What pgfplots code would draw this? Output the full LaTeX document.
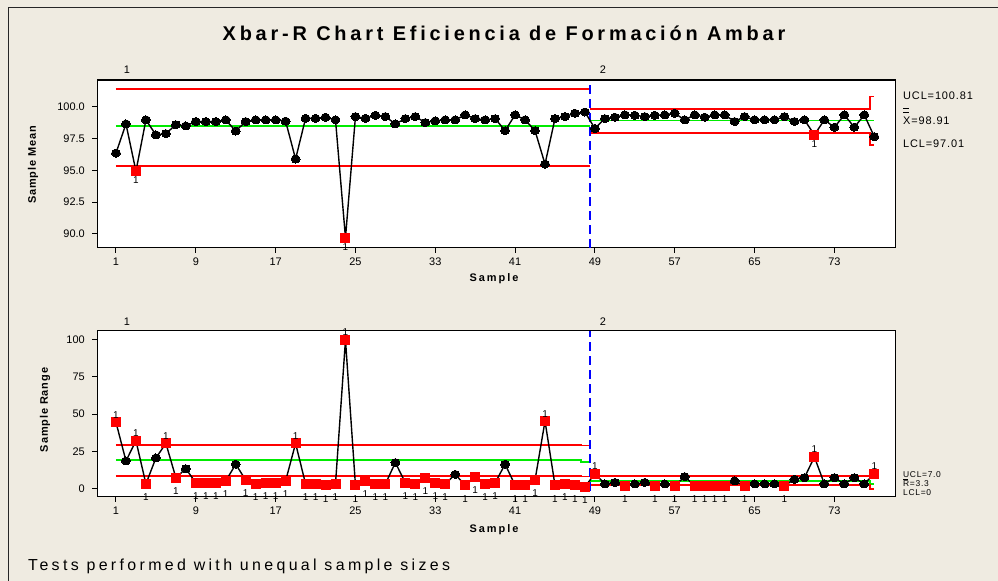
\documentclass[border=0pt]{standalone}
\usepackage{pgfplots}
\pgfplotsset{compat=1.18}
\usepackage{fontspec}
\setmainfont{Liberation Sans}
\newfontfamily\titlefont[LetterSpace=19]{Liberation Sans}
\newfontfamily\xlblfont[LetterSpace=18]{Liberation Sans}
\newfontfamily\ylblfont[LetterSpace=8]{Liberation Sans}
\newfontfamily\notefont[LetterSpace=21]{Liberation Sans}
\newfontfamily\rlblfont[LetterSpace=8]{Liberation Sans}
\definecolor{bgc}{RGB}{239,235,225}
\definecolor{lr}{RGB}{255,0,0}
\definecolor{lg}{RGB}{0,235,0}
\definecolor{lb}{RGB}{0,0,255}

\pgfplotstableread{
s m
1 96.37
2 98.66
3 94.94
4 98.98
5 97.80
6 97.90
7 98.60
8 98.50
9 98.85
10 98.85
11 98.85
12 98.98
13 98.10
14 98.85
15 98.98
16 98.98
17 98.98
18 98.88
19 95.90
20 99.10
21 99.10
22 99.19
23 98.98
24 89.70
25 99.24
26 99.10
27 99.34
28 99.24
29 98.66
30 99.08
31 99.24
32 98.77
33 98.90
34 98.98
35 98.98
36 99.37
37 99.08
38 98.98
39 99.08
40 98.13
41 99.37
42 98.98
43 98.13
44 95.50
45 99.08
46 99.24
47 99.50
48 99.60
49 98.30
50 99.08
51 99.19
52 99.37
53 99.34
54 99.24
55 99.34
56 99.37
57 99.50
58 98.98
59 99.37
60 99.19
61 99.37
62 99.37
63 98.85
64 99.24
65 98.98
66 98.98
67 98.98
68 99.24
69 98.85
70 98.98
71 97.80
72 98.98
73 98.40
74 99.37
75 98.40
76 99.37
77 97.66
}\meantab

\pgfplotstableread{
s r
1 44.5
2 18.6
3 32.2
4 3.2
5 20.6
6 30.4
7 7.4
8 13.4
9 4.0
10 4.0
11 4.0
12 5.2
13 16.4
14 5.8
15 3.2
16 4.0
17 4.0
18 5.2
19 30.4
20 3.2
21 3.2
22 2.3
23 3.2
24 99.8
25 2.3
26 5.2
27 3.2
28 3.2
29 17.5
30 4.0
31 3.2
32 7.4
33 4.0
34 3.2
35 9.6
36 2.3
37 7.8
38 3.2
39 4.0
40 16.4
41 2.3
42 2.3
43 5.8
44 45.4
45 2.3
46 3.2
47 2.3
48 1.3
49 10.1
50 3.2
51 4.2
52 1.9
53 3.2
54 4.2
55 1.9
56 3.2
57 1.9
58 8.1
59 1.9
60 1.9
61 1.9
62 1.9
63 5.2
64 1.9
65 3.2
66 3.2
67 3.2
68 1.9
69 6.3
70 7.4
71 21.3
72 3.2
73 7.4
74 3.2
75 7.4
76 3.2
77 10.1
}\rangetab

\pgfplotsset{
  spc/.style={
    scale only axis, width=798.4bp,
    xmin=-0.874, xmax=79.15,
    axis background/.style={fill=white},
    axis line style={black, line width=1.3bp},
    every tick/.style={black, line width=1bp},
    major tick length=5bp,
    tick align=outside,
    xtick pos=bottom, ytick pos=left,
    xtick={1,9,...,73},
    tick label style={font=\fontsize{11}{13}\selectfont},
    /pgf/number format/assume math mode=true,
    xticklabel style={yshift=-2bp},
    yticklabel style={xshift=-4bp},
    clip=false,
  },
  lim/.style={draw=lr, line width=1.7bp, forget plot, mark=none},
  cl/.style={draw=lg, line width=1.6bp, forget plot, mark=none},
  dat/.style={black, line width=1.4bp, mark=*, mark size=4bp, mark options={xscale=1.12, fill=black, draw=black, line width=0pt}},
  redpt/.style={only marks, mark=square*, mark size=4.5bp, mark options={fill=lr, draw=lr, line width=0pt}, nodes near coords={1}},
  below1/.style={nodes near coords style={black, inner sep=0pt, font=\fontsize{10}{12}\selectfont, anchor=north, yshift=-5.5bp}},
  above1/.style={nodes near coords style={black, inner sep=0pt, font=\fontsize{10}{12}\selectfont, anchor=south, yshift=4bp}},
  stg/.style={draw=lb, line width=1.8bp, dash pattern=on 9bp off 5bp, forget plot, mark=none},
}

\begin{document}
\begin{tikzpicture}[x=1bp,y=1bp]
\fill[bgc] (0,0) rectangle (998,581);
\useasboundingbox (0,0) rectangle (998,581);
\draw[black!85, line width=1.5bp] (8.5,0) -- (8.5,573.5) -- (998,573.5);

% ---------------- Xbar chart ----------------
\begin{axis}[spc, at={(97.3bp,333.3bp)}, anchor=south west,
  height=167.7bp, ymin=88.92, ymax=102.12,
  ytick={90,92.5,95,97.5,100},
  yticklabel style={/pgf/number format/.cd, fixed, fixed zerofill, precision=1}]
\addplot[cl] coordinates {(1,98.48) (48.5,98.48)};
\addplot[cl] coordinates {(48.5,98.93) (77,98.93)};
\addplot[lim] coordinates {(1,101.41) (48.5,101.41)};
\addplot[lim] coordinates {(1,95.33) (48.5,95.33)};
\addplot[lim] coordinates {(48.5,99.85) (76.6,99.85) (76.6,100.81) (77,100.81)};
\addplot[lim] coordinates {(48.5,97.97) (76.6,97.97) (76.6,97.01) (77,97.01)};
\addplot[stg] coordinates {(48.5,88.92) (48.5,102.12)};
\addplot[dat] table[x=s,y=m] {\meantab};
\addplot[redpt, below1] coordinates {(3,94.94) (24,89.70) (71,97.80)};
\end{axis}

% ---------------- R chart ----------------
\begin{axis}[spc, at={(97.3bp,84.3bp)}, anchor=south west,
  height=166bp, ymin=-5.37, ymax=106,
  ytick={0,25,50,75,100}]
\addplot[cl] coordinates {(1,19.3) (47.6,19.3) (47.6,18.1) (48.5,18.1)};
\addplot[cl] coordinates {(48.5,5.0) (76.6,5.0) (76.6,3.3) (77,3.3)};
\addplot[lim] coordinates {(1,29.3) (47.6,29.3) (47.6,28.9) (48.5,28.9)};
\addplot[lim] coordinates {(1,8.5) (47.6,8.5) (47.6,8.2) (48.5,8.2)};
\addplot[lim] coordinates {(48.5,8.3) (76.6,8.3) (76.6,7.0) (77,7.0)};
\addplot[lim] coordinates {(48.5,2.4) (76.6,2.4) (76.6,0) (77,0)};
\addplot[stg] coordinates {(48.5,-1.5) (48.5,106)};
\addplot[dat] table[x=s,y=r] {\rangetab};
\addplot[redpt, above1] coordinates {(1,44.5) (3,32.2) (6,30.4) (19,30.4) (24,99.8) (44,45.4) (49,10.1) (71,21.3) (77,10.1)};
\addplot[redpt, below1, nodes near coords style={yshift=-4.5bp}] coordinates {(4,3.2) (7,7.4) (9,4.0) (10,4.0) (11,4.0) (12,5.2) (14,5.8) (15,3.2) (16,4.0) (17,4.0) (18,5.2) (20,3.2) (21,3.2) (22,2.3) (23,3.2) (25,2.3) (26,5.2) (27,3.2) (28,3.2) (30,4.0) (31,3.2) (32,7.4) (33,4.0) (34,3.2) (36,2.3) (37,7.8) (38,3.2) (39,4.0) (41,2.3) (42,2.3) (43,5.8) (45,2.3) (46,3.2) (47,2.3) (48,1.3) (52,1.9) (55,1.9) (57,1.9) (59,1.9) (60,1.9) (61,1.9) (62,1.9) (64,1.9) (68,1.9)};
\end{axis}

% ---------------- texts ----------------
\node[font=\titlefont\bfseries\fontsize{20}{24}\selectfont] at (504,548) {Xbar-R Chart Eficiencia de Formación Ambar};
\node[font=\ylblfont\bfseries\fontsize{11}{13}\selectfont, rotate=90] at (33,416) {Sample Mean};
\node[font=\ylblfont\bfseries\fontsize{11}{13}\selectfont, rotate=90] at (45,171) {Sample Range};
\node[font=\xlblfont\bfseries\fontsize{11}{13}\selectfont] at (494,302) {Sample};
\node[font=\xlblfont\bfseries\fontsize{11}{13}\selectfont] at (494,51) {Sample};
\node[font=\fontsize{11}{13}\selectfont] at (127,511) {1};
\node[font=\fontsize{11}{13}\selectfont] at (603,511) {2};
\node[font=\fontsize{11}{13}\selectfont] at (127,259) {1};
\node[font=\fontsize{11}{13}\selectfont] at (603,259) {2};
\node[font=\rlblfont\fontsize{11}{13}\selectfont, anchor=base west, inner sep=0pt] at (903,481) {UCL=100.81};
\node[font=\rlblfont\fontsize{11}{13}\selectfont, anchor=base west, inner sep=0pt] at (903,456) {\rlap{\raisebox{12.5bp}{\rule{5.5bp}{0.8bp}}}\rlap{\raisebox{15.8bp}{\rule{5.5bp}{0.8bp}}}X=98.91};
\node[font=\rlblfont\fontsize{11}{13}\selectfont, anchor=base west, inner sep=0pt] at (903,433) {LCL=97.01};
\node[font=\rlblfont\fontsize{8.5}{10}\selectfont, anchor=base west, inner sep=0pt] at (903,103) {UCL=7.0};
\node[font=\rlblfont\fontsize{8.5}{10}\selectfont, anchor=base west, inner sep=0pt] at (903,94) {\rlap{\raisebox{7bp}{\rule{5bp}{0.6bp}}}R=3.3};
\node[font=\rlblfont\fontsize{8.5}{10}\selectfont, anchor=base west, inner sep=0pt] at (903,85.5) {LCL=0};
\node[font=\notefont\fontsize{16}{19}\selectfont, anchor=base west, inner sep=0pt] at (28,10) {Tests performed with unequal sample sizes};
\end{tikzpicture}
\end{document}
